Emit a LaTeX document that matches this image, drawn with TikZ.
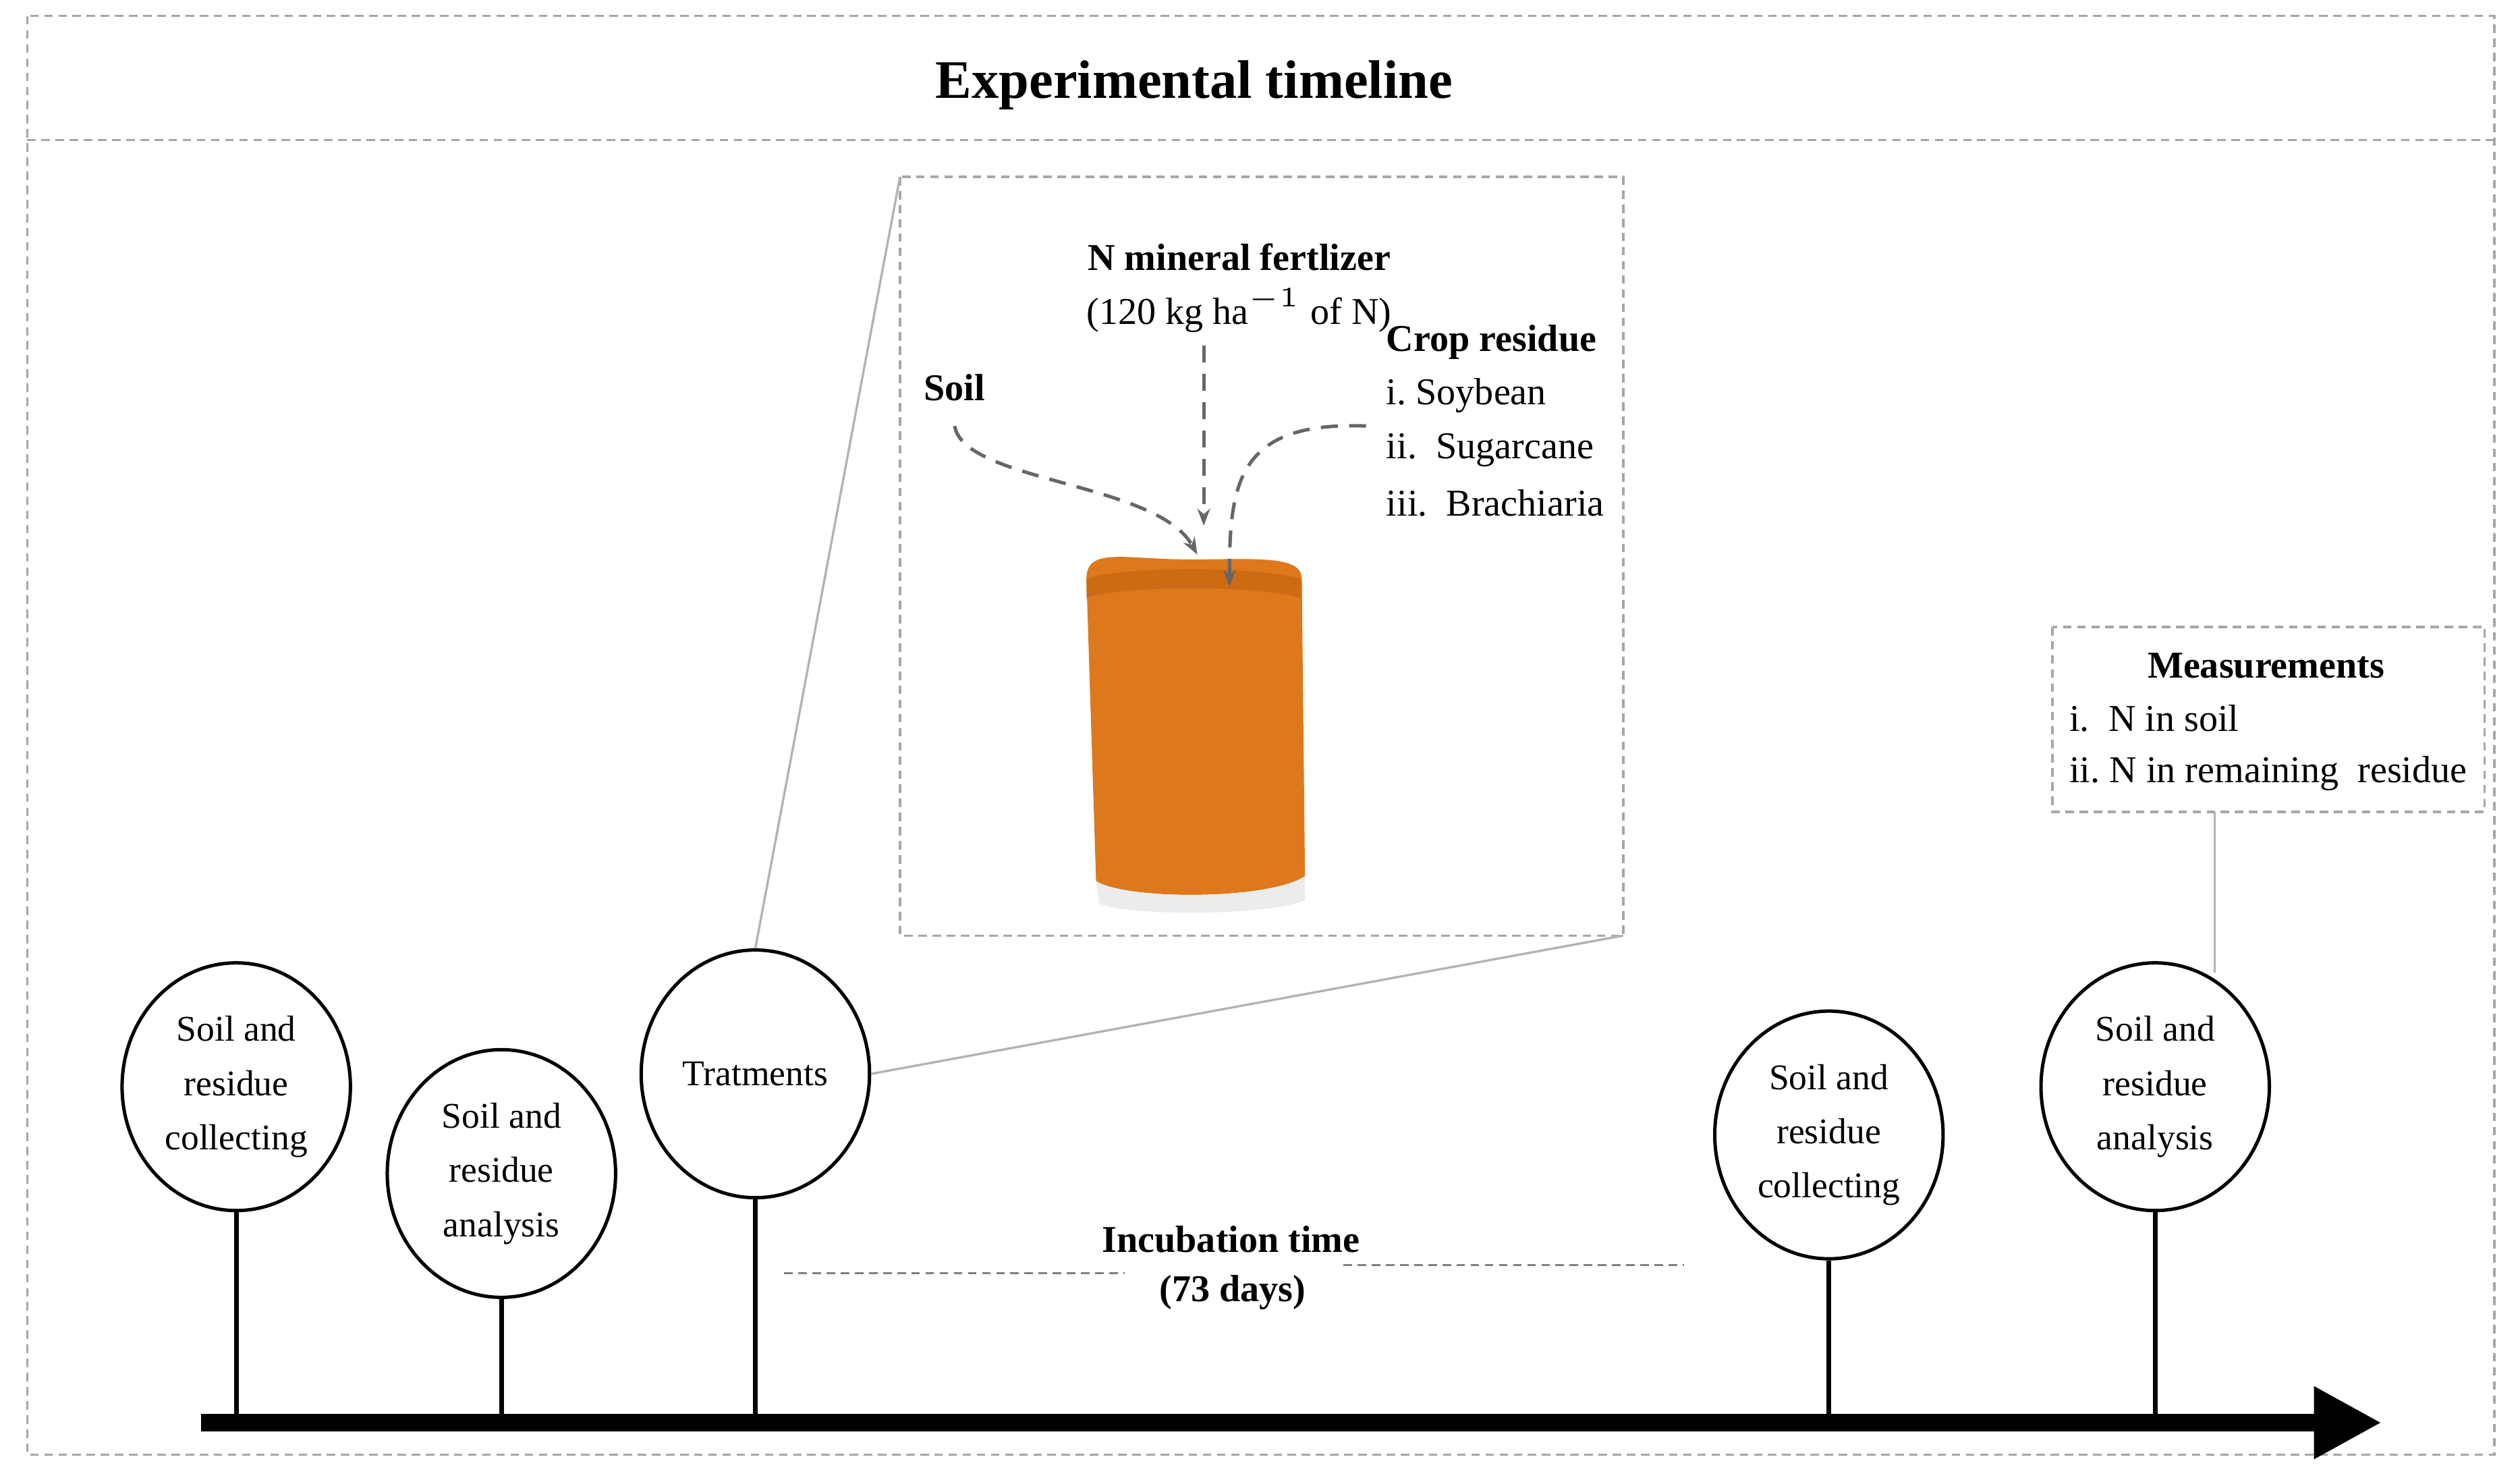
\documentclass[tikz,border=0pt]{standalone}
\usepackage{fontspec}
\setmainfont{Liberation Serif}
\usetikzlibrary{shapes.geometric,arrows.meta}
\definecolor{cuporange}{RGB}{222,120,28}
\definecolor{cupdark}{RGB}{190,95,15}
\tikzset{
  stage/.style={ellipse,draw,semithick,minimum width=1.42cm,minimum height=1.54cm,align=center,font=\fontsize{6.4}{9.6}\selectfont,inner sep=0pt},
  frame/.style={draw=gray!70,dash pattern=on 1.5pt off 1pt,thin},
  hint/.style={gray!80!black,densely dashed,semithick,-{Stealth[length=3pt]}},
  lbl/.style={font=\fontsize{6.7}{8}\selectfont,anchor=west,inner sep=0pt},
  head/.style={font=\bfseries\fontsize{6.7}{8}\selectfont,inner sep=0pt}
}
\begin{document}
\begin{tikzpicture}[x=0.01cm,y=-0.01cm]
    \useasboundingbox (0,0) rectangle (1568,919);
    \draw[frame] (17,10) rectangle (1552,905);
    \draw[frame] (17,87) -- (1552,87);
    \node[font=\bfseries\fontsize{9.6}{12}\selectfont] (title) at (743,53) {Experimental timeline};
    % inset with the cup
    \draw[frame] (560,110) rectangle (1010,582);
    \fill[cuporange] (676,360) .. controls (676,340) and (700,348) .. (740,348) .. controls (780,348) and (810,345) .. (810,360) -- (812,545) .. controls (790,560) and (700,560) .. (682,548) -- cycle;
    \fill[cupdark,opacity=.5] (676,360) .. controls (700,352) and (780,352) .. (810,360) -- (810,372) .. controls (780,364) and (700,364) .. (676,372) -- cycle;
    \fill[gray!15] (682,548) .. controls (700,560) and (790,560) .. (812,545) -- (812,560) .. controls (790,570) and (700,570) .. (684,562) -- cycle;
    \node[head] (fert) at (771,160) {N mineral fertlizer};
    \node[lbl,anchor=center] (dose) at (771,193) {(120 kg ha$^{-1}$ of N)};
    \node[head] (soil) at (594,241) {Soil};
    \node[head] (crop) at (928,213) {Crop residue};
    \node[lbl] (soy) at (862,246) {i.\ Soybean};
    \node[lbl] (sug) at (862,280) {ii.\ \ Sugarcane};
    \node[lbl] (bra) at (862,313) {iii.\ \ Brachiaria};
    \coordinate (cuptop) at (749,327);
    \coordinate (cupsoil) at (745,345);
    \coordinate (cupres) at (765,365);
    \draw[hint] (749,215) -- (cuptop);
    \draw[hint] (594,265) .. controls (600,300) and (720,300) .. (cupsoil);
    \draw[hint] (850,265) .. controls (770,262) and (765,300) .. (cupres);
    % measurements
    \draw[frame] (1277,390) rectangle (1546,505);
    \node[head] (meas) at (1410,414) {Measurements};
    \node[lbl] (msoil) at (1287,447) {i.\ \ N in soil};
    \node[lbl] (mres) at (1287,481) {ii.\ N in remaining\ \ residue};
    % timeline
    \coordinate (t0) at (125,885);
    \coordinate (t1) at (1482,885);
    \draw[line width=3pt,-{Triangle[length=12pt,width=12pt]}] (t0) -- (t1);
    \node[stage] (s1) at (147,676) {Soil and\\residue\\collecting};
    \node[stage] (s2) at (312,730) {Soil and\\residue\\analysis};
    \node[stage] (s3) at (470,668) {Tratments};
    \node[stage] (s4) at (1138,706) {Soil and\\residue\\collecting};
    \node[stage] (s5) at (1341,676) {Soil and\\residue\\analysis};
    \foreach \s in {s1,s2,s3,s4,s5} \draw[thick] (\s.south) -- (\s.south |- t0);
    \draw[gray!60] (s3.north) -- (560,110);
    \draw[gray!60] (s3.east) -- (1010,582);
    \draw[gray!60] (1378,505) -- (1378,605);
    \node[head] (incub) at (766,771) {Incubation time};
    \node[head] (days) at (767,804) {(73 days)};
    \draw[gray,dash pattern=on 1.5pt off 1pt,thin] (488,792) -- (700,792);
    \draw[gray,dash pattern=on 1.5pt off 1pt,thin] (836,787) -- (1048,787);
\end{tikzpicture}
\end{document}
